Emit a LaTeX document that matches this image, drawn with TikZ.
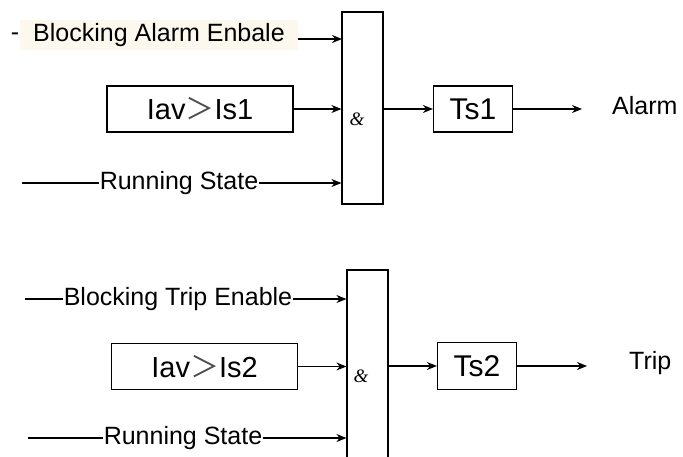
\documentclass[tikz,border=0pt]{standalone}
\usepackage{fontspec}
\setmainfont{Liberation Sans}
\newfontfamily\cjk{Noto Sans CJK SC}
\newfontfamily\ampfont{Liberation Serif}
\usetikzlibrary{arrows.meta}
\definecolor{cream}{HTML}{FDF8EE}

\begin{document}
\begin{tikzpicture}[
  x=1pt, y=-1pt,
  blk/.style={draw, line width=1.2pt, inner sep=0pt},
  andbox/.style={blk, minimum width=41pt},
  cmpbox/.style={blk, minimum width=186pt, minimum height=46pt, font=\fontsize{29}{34}\selectfont},
  tbox/.style={blk, minimum width=79pt, minimum height=46pt, font=\fontsize{30}{34}\selectfont},
  lbl/.style={inner xsep=1pt, inner ysep=0pt, font=\fontsize{25}{30}\selectfont},
  amp/.style={inner sep=0pt, font=\ampfont\itshape\fontsize{19}{20}\selectfont},
  sig/.style={line width=1.2pt},
  arr/.style={sig, -{Stealth[length=10pt,width=8pt]}}
]
\clip (0,0) rectangle (683,457);
\node[andbox, minimum height=192pt] (and1) at (362.5,108) {};
\node[amp] (amp1) at (357,119) {\&};
\node[lbl, fill=cream, inner xsep=13pt, minimum height=30pt] (enb1) at (159,35) {Blocking Alarm Enbale};
\node[lbl] (dash1) at (15,37) {-};
\coordinate (in1a) at (342,39);
\draw[arr] (enb1.east |- in1a) -- (in1a);
\node[cmpbox] (cmp1) at (200,109) {Iav{\cjk\color{black!70}＞}Is1};
\draw[arr] (cmp1.east) -- (cmp1.east -| and1.west);
\node[tbox] (ts1) at (473,109) {Ts1};
\draw[arr] (and1.east |- ts1) -- (ts1.west);
\coordinate (out1) at (582,109);
\draw[arr] (ts1.east) -- (out1);
\node[lbl, anchor=west] (alarm) at (611,106) {Alarm};
\coordinate (st1) at (22,183);
\node[lbl] (run1) at (179,183) {Running State};
\draw[sig] (st1) -- (run1.west);
\draw[arr] (run1.east) -- (run1.east -| and1.west);

\node[andbox, minimum height=200pt] (and2) at (367.5,370) {};
\node[amp] (amp2) at (361,376) {\&};
\coordinate (st2a) at (25,299);
\node[lbl] (enb2) at (178,299) {Blocking Trip Enable};
\draw[sig] (st2a) -- (enb2.west);
\draw[arr] (enb2.east) -- (enb2.east -| and2.west);
\node[cmpbox] (cmp2) at (204.5,366.5) {Iav{\cjk\color{black!70}＞}Is2};
\draw[arr] (cmp2.east) -- (cmp2.east -| and2.west);
\node[tbox, minimum height=47pt] (ts2) at (477,366) {Ts2};
\draw[arr] (and2.east |- ts2) -- (ts2.west);
\coordinate (out2) at (587,366);
\draw[arr] (ts2.east) -- (out2);
\node[lbl, anchor=west] (trip) at (628,363) {Trip};
\coordinate (st2b) at (28,438);
\node[lbl] (run2) at (183,438) {Running State};
\draw[sig] (st2b) -- (run2.west);
\draw[arr] (run2.east) -- (run2.east -| and2.west);
\end{tikzpicture}
\end{document}
